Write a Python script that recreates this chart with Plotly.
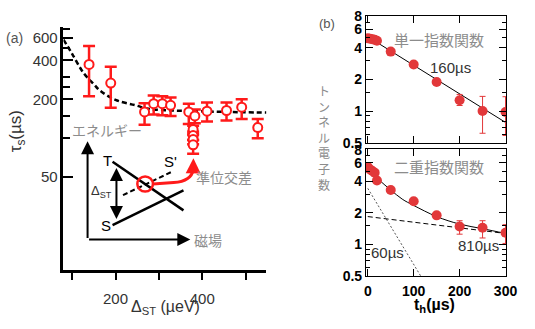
import math
import plotly.graph_objects as go

W, H = 535, 329

# ---------------- Panel (a) data ----------------
delta_st = [139, 189, 267, 288, 308, 327, 369, 383, 379, 379, 379, 379, 411, 456, 491, 528]
tau_s = [372, 267, 160, 185, 185, 180, 160, 149, 117, 105, 98, 89, 162, 164, 174, 121]
tau_err_plus = [144, 90, 27, 29, 26, 27, 25, 18, 8, 8, 8, 8, 27, 25, 26, 20]
tau_err_minus = [161, 95, 33, 32, 34, 31, 31, 18, 8, 8, 8, 13, 27, 27, 33, 21]
fit_delta = [80, 100, 126, 150, 164, 200, 246, 276, 330, 389, 450, 548]
fit_tau = [580, 450, 321, 262, 234, 198, 180, 169, 164, 162, 160, 158]

# ---------------- Panel (b) data ----------------
t_single = [0, 5, 10, 15, 20, 50, 100, 150, 200, 250, 300]
n_single = [4.93, 4.89, 4.83, 4.77, 4.67, 3.68, 2.77, 1.89, 1.27, 1.0, 0.98]
n_single_plus = [0, 0, 0, 0, 0, 0, 0, 0, 0.17, 0.38, 0.39]
n_single_minus = [0, 0, 0, 0, 0, 0, 0, 0, 0.14, 0.385, 0.394]
fit_single_t = [0, 300]
fit_single_n = [5.1, 0.78]

t_double = [0, 5, 10, 15, 20, 50, 100, 150, 200, 250, 300]
n_double = [5.47, 5.18, 5.0, 4.83, 4.06, 3.30, 2.58, 1.89, 1.48, 1.44, 1.29]
n_double_plus = [0, 0, 0, 0, 0, 0, 0, 0, 0.20, 0.24, 0.25]
n_double_minus = [0, 0, 0, 0, 0, 0, 0, 0, 0.23, 0.29, 0.27]
fit_double_t = [0, 25, 50, 75, 100, 150, 200, 250, 300]
fit_double_n = [5.26, 4.1, 3.3, 2.7, 2.35, 1.84, 1.56, 1.41, 1.27]
slow_t = [0, 300]
slow_n = [1.84, 1.27]
fast_t = [0, 130]
fast_n = [3.42, 0.39]

# tick labels
a_y_ticks = [50, 200, 400, 600]
a_y_minor = [100, 150, 250, 300, 500, 700]
a_x_ticks = [200, 400]
a_x_minor = [100, 300, 500]
b_y_ticks = [0.5, 1, 2, 4, 6, 8]
b_y_text = ["0.5", "1", "2", "4", "6", "8"]
b_y_minor = [0.6, 0.7, 0.8, 0.9, 1.5, 3, 5, 7]
b_x_ticks = [0, 100, 200, 300]

# schematic (pixel-like coordinates on an overlay axis)
line_T = ([113.3, 186], [161.7, 212.7])
line_S = ([113.3, 186], [228.3, 191.7])
line_Sp = ([124, 175], [196.7, 171.7])

RED = "#ff1a1a"
DOT_RED = "#e2383a"
GRAY = "#8c8c8c"
JP = "Noto Sans CJK JP"
SANS = "Liberation Sans, Arial"

fig = go.Figure()

# panel (a)
fig.add_trace(go.Scatter(x=fit_delta, y=fit_tau, mode="lines", line=dict(color="black", width=2.5, dash="5px,3px", shape="spline"), xaxis="x", yaxis="y"))
fig.add_trace(go.Scatter(
    x=delta_st, y=tau_s, mode="markers", xaxis="x", yaxis="y",
    marker=dict(symbol="circle", size=9, color="white", line=dict(color=RED, width=2)),
    error_y=dict(type="data", symmetric=False, array=tau_err_plus, arrayminus=tau_err_minus, color=RED, thickness=2.5, width=6),
))

# panel (b) top
fig.add_trace(go.Scatter(x=fit_single_t, y=fit_single_n, mode="lines", line=dict(color="black", width=1), xaxis="x2", yaxis="y2"))
fig.add_trace(go.Scatter(
    x=t_single, y=n_single, mode="markers", xaxis="x2", yaxis="y2",
    marker=dict(size=10, color=DOT_RED),
    error_y=dict(type="data", symmetric=False, array=n_single_plus, arrayminus=n_single_minus, color=DOT_RED, thickness=1, width=3),
))

# panel (b) bottom
fig.add_trace(go.Scatter(x=fast_t, y=fast_n, mode="lines", line=dict(color="#555", width=1, dash="2px,2px"), xaxis="x3", yaxis="y3"))
fig.add_trace(go.Scatter(x=slow_t, y=slow_n, mode="lines", line=dict(color="black", width=1, dash="5px,3px"), xaxis="x3", yaxis="y3"))
fig.add_trace(go.Scatter(x=fit_double_t, y=fit_double_n, mode="lines", line=dict(color="black", width=1, shape="spline"), xaxis="x3", yaxis="y3"))
fig.add_trace(go.Scatter(
    x=t_double, y=n_double, mode="markers", xaxis="x3", yaxis="y3",
    marker=dict(size=10, color=DOT_RED),
    error_y=dict(type="data", symmetric=False, array=n_double_plus, arrayminus=n_double_minus, color=DOT_RED, thickness=1, width=3),
))

# schematic lines
fig.add_trace(go.Scatter(x=line_T[0], y=line_T[1], mode="lines", line=dict(color="black", width=2.5), xaxis="x5", yaxis="y5"))
fig.add_trace(go.Scatter(x=line_S[0], y=line_S[1], mode="lines", line=dict(color="black", width=2.5), xaxis="x5", yaxis="y5"))
fig.add_trace(go.Scatter(x=line_Sp[0], y=line_Sp[1], mode="lines", line=dict(color="black", width=2, dash="5px,3px"), xaxis="x5", yaxis="y5"))


def px_x(v):
    return v / W


def px_y(v):
    return 1 - v / H


b_lo_top = math.log10(0.5)
b_hi_top = math.log10(8.1)

common_b = dict(showline=True, linecolor="black", linewidth=1, mirror="ticks", ticks="inside",
                showgrid=False, zeroline=False, tickcolor="black")

fig.update_layout(
    width=W, height=H, margin=dict(l=0, r=0, t=0, b=0),
    paper_bgcolor="white", plot_bgcolor="rgba(0,0,0,0)", showlegend=False,
    xaxis=dict(domain=[px_x(63), px_x(271)], range=[80, 548], anchor="y",
               showline=True, linecolor="black", linewidth=2.5, ticks="outside", ticklen=8, tickwidth=2,
               tickcolor="black", tickvals=a_x_ticks, ticklabelstandoff=6,
               minor=dict(tickmode="array", tickvals=a_x_minor, ticks="outside", ticklen=8, tickwidth=2, tickcolor="black"),
               showgrid=False, zeroline=False, tickfont=dict(family=SANS, size=15, color="#333")),
    yaxis=dict(domain=[px_y(275), px_y(20)], type="log", range=[0.985, 2.860], anchor="x",
               showline=True, linecolor="black", linewidth=2.5, ticks="inside", ticklen=10, tickwidth=2,
               tickcolor="black", tickvals=a_y_ticks,
               minor=dict(tickmode="array", tickvals=a_y_minor, ticks="inside", ticklen=7, tickwidth=2, tickcolor="black"),
               showgrid=False, zeroline=False, tickfont=dict(family=SANS, size=15, color="#333")),
    xaxis2=dict(domain=[px_x(373), px_x(517)], range=[-4, 302], anchor="y2", tickvals=b_x_ticks,
                ticklen=7, showticklabels=False, **common_b),
    yaxis2=dict(domain=[px_y(141.6), px_y(8)], type="log", range=[b_lo_top, b_hi_top], anchor="x2",
                tickvals=b_y_ticks, ticktext=b_y_text, ticklen=7,
                minor=dict(tickmode="array", tickvals=b_y_minor, ticks="inside", ticklen=4, tickcolor="black"),
                tickfont=dict(family=SANS, size=14, color="black", weight="bold"), **common_b),
    xaxis3=dict(domain=[px_x(373), px_x(517)], range=[-4, 302], anchor="y3", tickvals=b_x_ticks,
                ticklen=7, ticklabelstandoff=2,
                tickfont=dict(family=SANS, size=14, color="black", weight="bold"), **common_b),
    yaxis3=dict(domain=[px_y(281.6), px_y(148.3)], type="log", range=[b_lo_top, b_hi_top], anchor="x3",
                tickvals=b_y_ticks, ticktext=b_y_text, ticklen=7,
                minor=dict(tickmode="array", tickvals=b_y_minor, ticks="inside", ticklen=4, tickcolor="black"),
                tickfont=dict(family=SANS, size=14, color="black", weight="bold"), **common_b),
    xaxis5=dict(domain=[0, 1], range=[0, W], anchor="y5", visible=False, fixedrange=True),
    yaxis5=dict(domain=[0, 1], range=[H, 0], anchor="x5", visible=False, fixedrange=True),
)

# red circle and curved arrow in schematic
fig.add_shape(type="circle", xref="x5", yref="y5", x0=138.7, x1=154.7, y0=177, y1=193,
              line=dict(color=RED, width=2.5))
fig.add_shape(type="path", xref="x5", yref="y5",
              path="M 154.7,185 L 176,183.5 Q 194,182 196,170",
              line=dict(color=RED, width=3))

ann = []


def arrow(x, y, ax, ay, color="black", width=2, side="end", size=1.3):
    ann.append(dict(x=x, y=y, ax=ax, ay=ay, xref="x5", yref="y5", axref="x5", ayref="y5",
                    showarrow=True, arrowhead=2, arrowsize=size, arrowwidth=width, arrowcolor=color,
                    arrowside=side, text=""))


arrow(87.7, 140, 87.7, 243.3)
arrow(193, 243.3, 87.7, 243.3)
arrow(117.3, 221.7, 117.3, 166.7, side="end+start")
arrow(196.2, 158, 196, 171, color=RED, width=3, size=1.0)


def text(x, y, s, size=14, color=GRAY, family=JP, angle=0, **kw):
    ann.append(dict(x=x, y=y, xref="x5", yref="y5", text=s, showarrow=False, textangle=angle,
                    font=dict(size=size, color=color, family=family), **kw))


text(108, 128, "エネルギー", 14)
text(228, 178, "準位交差", 14)
text(211, 244, "磁場", 14)
text(108.3, 160, "T", 15, "black", SANS)
text(106.7, 229, "S", 15, "black", SANS)
text(173, 161, "S'", 15, "black", SANS)
text(102, 193, "Δ<sub>ST</sub>", 13, "#333", SANS)
text(13, 32, "(a)", 14, "#555", SANS)
text(15, 130, "τ<sub>s</sub>(µs)", 17, "#333", SANS, angle=-90)
text(168, 315, "Δ<sub>ST</sub> (µeV)", 16, "#333", SANS)

text(333, 16, "(b)", 13, "#555", SANS)
text(448, 33, "単一指数関数", 15)
text(460, 63, "160µs", 15, "#333", SANS)
text(448, 166.5, "二重指数関数", 15)
text(395, 256.5, "60µs", 15, "#333", SANS)
text(488, 250, "810µs", 15, "#333", SANS)
text(443, 313, "<b>t<sub>h</sub>(µs)</b>", 16, "black", SANS)
text(330, 136, "<br>".join(list("トンネル電子数")), 12, GRAY)

fig.update_layout(annotations=ann)
fig.write_html("out.html")
